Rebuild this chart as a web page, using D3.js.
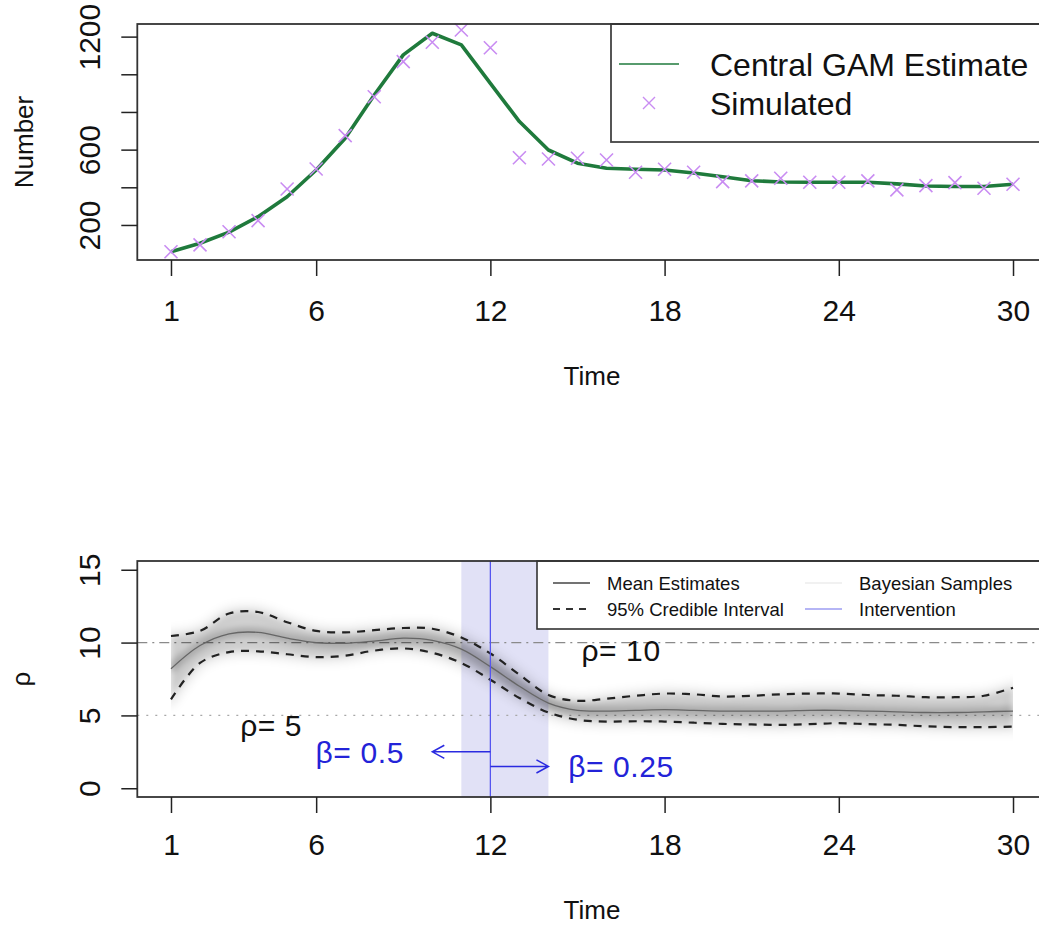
<!DOCTYPE html>
<html>
<head>
<meta charset="utf-8">
<script src="https://cdn.jsdelivr.net/npm/d3@7"></script>
<style>
  body { margin: 0; background: #fff; }
  text { font-family: "Liberation Sans", Arial, Helvetica, sans-serif; fill: #111; }
</style>
</head>
<body>
<div id="chart"></div>
<script>
// top panel: simulated counts and central GAM fit
const time = d3.range(1, 31);
const simulated = [58, 94, 164, 223, 391, 497, 674, 881, 1067, 1170,
                   1235, 1141, 557, 550, 554, 545, 480, 496, 480, 430,
                   434, 448, 427, 427, 434, 386, 409, 425, 395, 416];
const gamEstimate = [58, 103, 162, 244, 350, 492, 660, 890, 1103, 1218,
                     1156, 952, 749, 598, 528, 501, 496, 492, 476, 456,
                     435, 428, 427, 427, 427, 418, 407, 404, 404, 416];

// bottom panel: rho estimates
const rhoMean  = [8.2, 9.8, 10.6, 10.7, 10.3, 10.0, 9.95, 10.1, 10.3, 10.15,
                  9.55, 8.35, 7.0, 5.85, 5.35, 5.3, 5.35, 5.4, 5.35, 5.3,
                  5.3, 5.3, 5.35, 5.35, 5.3, 5.25, 5.2, 5.2, 5.25, 5.3];
const rhoUpper = [10.45, 10.8, 12.0, 12.1, 11.4, 10.8, 10.7, 10.85, 11.0, 10.95,
                  10.35, 9.25, 7.8, 6.4, 6.0, 6.15, 6.35, 6.5, 6.45, 6.3,
                  6.35, 6.45, 6.5, 6.5, 6.4, 6.35, 6.25, 6.25, 6.35, 6.9];
const rhoLower = [6.1, 8.6, 9.35, 9.4, 9.2, 9.0, 9.1, 9.45, 9.6, 9.3,
                  8.6, 7.45, 6.2, 5.2, 4.7, 4.58, 4.6, 4.58, 4.5, 4.42,
                  4.38, 4.35, 4.4, 4.47, 4.4, 4.35, 4.25, 4.2, 4.2, 4.23];

const xTicks = [1, 6, 12, 18, 24, 30];
const yTopTicks = [200, 400, 600, 800, 1000, 1200];
const yTopLabels = {200: "200", 600: "600", 1200: "1200"};
const yBotTicks = [0, 5, 10, 15];

const refLines = [{v: 10, dash: "10,5,2,5", color: "#8a8a8a"},
                  {v: 5, dash: "2,7", color: "#a8a8a8"}];
const intervention = {start: 11, end: 14, at: 12};
const arrows = [{from: 12, to: 10, v: 2.5}, {from: 12, to: 14, v: 1.5}];
const notes = [
    {t: 4.45, v: 4.3, label: "ρ= 5", color: "#111"},
    {t: 16.5, v: 9.5, label: "ρ= 10", color: "#111"},
    {t: 7.5, v: 2.5, label: "β= 0.5", color: "#2323d8"},
    {t: 16.5, v: 1.5, label: "β= 0.25", color: "#2323d8"}
];

const W = 1039, H = 926;
const green = "#1f7a3c", violet = "#c98cf2", blue = "#5555f0";

const svg = d3.select("#chart").append("svg")
    .attr("width", W).attr("height", H);

const defs = svg.append("defs");
defs.append("filter").attr("id", "soft")
    .attr("x", "-5%").attr("y", "-30%").attr("width", "110%").attr("height", "160%")
    .append("feGaussianBlur").attr("stdDeviation", 3.5);

const x = d3.scaleLinear().domain([-0.16, 31.16]).range([137.3, 1046.7]);

// panel frames
const topBox = {top: 24, bottom: 260};
const botBox = {top: 561, bottom: 797};

const yTop = d3.scaleLinear().domain([14, 1267]).range([topBox.bottom, topBox.top]);
const yBot = d3.scaleLinear().domain([-0.6, 15.6]).range([botBox.bottom, botBox.top]);

function drawXAxis(yPos, labelBase, titleBase){
    const g = svg.append("g").attr("transform", `translate(0,${yPos})`)
        .call(d3.axisBottom(x).tickValues(xTicks).tickSize(16).tickSizeOuter(0));
    g.select(".domain").remove();
    g.selectAll(".tick line").attr("stroke", "#222").attr("stroke-width", 1.5);
    g.selectAll(".tick text")
        .attr("y", labelBase - yPos).attr("dy", 0)
        .style("font-size", "30px").style("fill", "#111")
        .style("font-family", "Liberation Sans, Arial, sans-serif");
    svg.append("text").attr("x", (x.range()[0] + x.range()[1]) / 2).attr("y", titleBase)
        .attr("text-anchor", "middle").style("font-size", "26px").text("Time");
}

function drawYAxis(scale, ticks, labels, title, titleX){
    const g = svg.append("g").attr("transform", `translate(${x.range()[0]},0)`)
        .call(d3.axisLeft(scale).tickValues(ticks).tickSize(16).tickSizeOuter(0)
            .tickFormat(d => labels ? (labels[d] || "") : d));
    g.select(".domain").remove();
    g.selectAll(".tick line").attr("stroke", "#222").attr("stroke-width", 1.5);
    g.selectAll(".tick text")
        .attr("x", 0).attr("dy", 0)
        .attr("transform", "translate(-37,0) rotate(-90)")
        .attr("text-anchor", "middle")
        .style("font-size", "30px").style("fill", "#111")
        .style("font-family", "Liberation Sans, Arial, sans-serif");
    const r = scale.range();
    svg.append("text")
        .attr("transform", `translate(${titleX},${(r[0] + r[1]) / 2}) rotate(-90)`)
        .attr("text-anchor", "middle").style("font-size", "26px").text(title);
}

function drawBox(box){
    svg.append("rect")
        .attr("x", x.range()[0]).attr("y", box.top)
        .attr("width", x.range()[1] - x.range()[0]).attr("height", box.bottom - box.top)
        .attr("fill", "none").attr("stroke", "#333").attr("stroke-width", 1.8);
}

// ---------- top panel ----------
const topLine = d3.line().x((d, i) => x(time[i])).y(d => yTop(d));

svg.append("path").datum(gamEstimate)
    .attr("d", topLine).attr("fill", "none")
    .attr("stroke", green).attr("stroke-width", 3.6).attr("stroke-linejoin", "round");

const cross = 6.5;
svg.append("g").selectAll("path.sim")
    .data(simulated).join("path")
    .attr("class", "sim")
    .attr("d", (d, i) => {
        const cx = x(time[i]), cy = yTop(d);
        return `M${cx - cross},${cy - cross}L${cx + cross},${cy + cross}M${cx - cross},${cy + cross}L${cx + cross},${cy - cross}`;
    })
    .attr("stroke", violet).attr("stroke-width", 1.6).attr("fill", "none");

// legend
const topLeg = svg.append("g");
topLeg.append("rect").attr("x", 611).attr("y", topBox.top).attr("width", 460).attr("height", 118)
    .attr("fill", "#fff").attr("stroke", "#444").attr("stroke-width", 1.8);
topLeg.append("line").attr("x1", 619).attr("x2", 679).attr("y1", 64).attr("y2", 64)
    .attr("stroke", green).attr("stroke-width", 1.6);
topLeg.append("path")
    .attr("d", `M${649 - 6},${103 - 6}L${649 + 6},${103 + 6}M${649 - 6},${103 + 6}L${649 + 6},${103 - 6}`)
    .attr("stroke", violet).attr("stroke-width", 1.4);
topLeg.append("text").attr("x", 710).attr("y", 76).style("font-size", "32px").text("Central GAM Estimate");
topLeg.append("text").attr("x", 710).attr("y", 115).style("font-size", "32px").text("Simulated");

drawBox(topBox);
drawXAxis(topBox.bottom, 321, 385);
drawYAxis(yTop, yTopTicks, yTopLabels, "Number", 33);

// ---------- bottom panel ----------
svg.append("rect")
    .attr("x", x(intervention.start)).attr("y", botBox.top)
    .attr("width", x(intervention.end) - x(intervention.start))
    .attr("height", botBox.bottom - botBox.top)
    .attr("fill", "#e1e1f6");

svg.append("g").selectAll("line.ref")
    .data(refLines).join("line")
    .attr("x1", x.range()[0]).attr("x2", x.range()[1])
    .attr("y1", d => yBot(d.v)).attr("y2", d => yBot(d.v))
    .attr("stroke", d => d.color).attr("stroke-width", 1.4)
    .attr("stroke-dasharray", d => d.dash);

defs.append("clipPath").attr("id", "cloudClip")
    .append("rect").attr("x", x(1)).attr("y", botBox.top)
    .attr("width", x(30) - x(1)).attr("height", botBox.bottom - botBox.top);

const curve = d3.curveCatmullRom.alpha(0.5);
const rhoLine = d3.line().x((d, i) => x(time[i])).y(d => yBot(d)).curve(curve);
const rhoArea = d3.area().x((d, i) => x(time[i]))
    .y0((d, i) => yBot(rhoLower[i])).y1((d, i) => yBot(rhoUpper[i])).curve(curve);

// Bayesian sample cloud (soft halo around the interval, darker near the mean)
const cloud = svg.append("g").attr("clip-path", "url(#cloudClip)")
    .append("g").attr("filter", "url(#soft)");
cloud.append("path").datum(rhoMean).attr("d", rhoArea)
    .attr("fill", "none").attr("stroke", "#000").attr("stroke-opacity", 0.05)
    .attr("stroke-width", 16).attr("stroke-linejoin", "round");
cloud.append("path").datum(rhoMean).attr("d", rhoArea)
    .attr("fill", "#000").attr("fill-opacity", 0.17);
cloud.append("path").datum(rhoMean).attr("d", rhoLine)
    .attr("fill", "none").attr("stroke", "#000").attr("stroke-opacity", 0.22).attr("stroke-width", 9);

[rhoUpper, rhoLower].forEach(s => {
    svg.append("path").datum(s).attr("d", rhoLine)
        .attr("fill", "none").attr("stroke", "#222").attr("stroke-width", 2.2)
        .attr("stroke-dasharray", "8,7");
});
svg.append("path").datum(rhoMean).attr("d", rhoLine)
    .attr("fill", "none").attr("stroke", "#666").attr("stroke-width", 1.3);

svg.append("line")
    .attr("x1", x(intervention.at)).attr("x2", x(intervention.at))
    .attr("y1", botBox.top).attr("y2", botBox.bottom)
    .attr("stroke", blue).attr("stroke-width", 1.3);

const head = 12;
svg.append("g").selectAll("path.arrow")
    .data(arrows).join("path")
    .attr("d", d => {
        const x0 = x(d.from), x1 = x(d.to), yy = yBot(d.v), s = Math.sign(x0 - x1);
        return `M${x0},${yy}L${x1},${yy}M${x1 + s * head},${yy - head * 0.55}L${x1},${yy}L${x1 + s * head},${yy + head * 0.55}`;
    })
    .attr("fill", "none").attr("stroke", "#2a2ae0").attr("stroke-width", 1.5);

svg.append("g").selectAll("text.note")
    .data(notes).join("text")
    .attr("x", d => x(d.t)).attr("y", d => yBot(d.v))
    .attr("dy", "0.36em").attr("text-anchor", "middle")
    .style("font-size", "30px").style("letter-spacing", "0.6px")
    .style("fill", d => d.color)
    .text(d => d.label);

// legend
const botLeg = svg.append("g");
botLeg.append("rect").attr("x", 537).attr("y", botBox.top).attr("width", 540).attr("height", 68)
    .attr("fill", "#fff").attr("stroke", "#333").attr("stroke-width", 1.6);
const legItems = [
    {label: "Mean Estimates", col: 0, row: 0, stroke: "#444", dash: null, w: 1.6},
    {label: "95% Credible Interval", col: 0, row: 1, stroke: "#333", dash: "7,6", w: 1.8},
    {label: "Bayesian Samples", col: 1, row: 0, stroke: "#ececec", dash: null, w: 1.4},
    {label: "Intervention", col: 1, row: 1, stroke: "#9c9cf2", dash: null, w: 1.6}
];
const colX = [553, 805], rowY = [583, 609];
botLeg.selectAll("line.leg").data(legItems).join("line")
    .attr("x1", d => colX[d.col]).attr("x2", d => colX[d.col] + 37)
    .attr("y1", d => rowY[d.row]).attr("y2", d => rowY[d.row])
    .attr("stroke", d => d.stroke).attr("stroke-width", d => d.w)
    .attr("stroke-dasharray", d => d.dash);
botLeg.selectAll("text.leg").data(legItems).join("text")
    .attr("x", d => colX[d.col] + 54).attr("y", d => rowY[d.row])
    .attr("dy", "0.36em").style("font-size", "18.5px")
    .text(d => d.label);

drawBox(botBox);
drawXAxis(botBox.bottom, 855, 919);
drawYAxis(yBot, yBotTicks, null, "ρ", 30);
</script>
</body>
</html>
